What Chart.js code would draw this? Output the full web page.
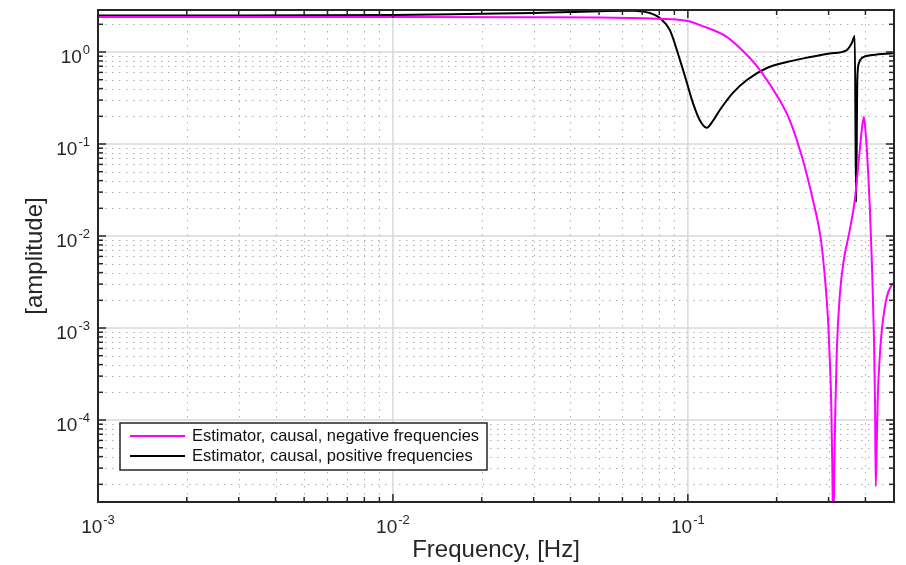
<!DOCTYPE html>
<html lang="en">
<head>
<meta charset="UTF-8">
<title>Estimator amplitude</title>
<script src="https://cdn.jsdelivr.net/npm/chart.js"></script>
<style>
  html, body { margin: 0; padding: 0; background: #fff; }
  #wrap { width: 906px; height: 565px; }
</style>
</head>
<body>
<div id="wrap"><canvas id="grafico" width="906" height="565"></canvas></div>

<script>
    // dados (frequencia em Hz, amplitude)
    const seriesLabels = ['Estimator, causal, negative frequencies', 'Estimator, causal, positive frequencies'];

    const freqNeg = [0.001, 0.003, 0.01, 0.03, 0.05, 0.0849, 0.1, 0.1099, 0.1355, 0.1622, 0.1754, 0.2047, 0.2218,
        0.2455, 0.2655, 0.28, 0.2868, 0.2936, 0.2994, 0.3041, 0.3064, 0.3088, 0.3113,
        0.3137, 0.3162, 0.32, 0.3276, 0.3379, 0.354, 0.3681, 0.3828, 0.3905, 0.3954, 0.3999, 0.4046,
        0.414, 0.4204, 0.427, 0.4311, 0.4336, 0.4372, 0.4406, 0.4476, 0.4547, 0.473, 0.4955];
    const ampNeg = [2.4, 2.4, 2.4, 2.39, 2.37, 2.28, 2.17, 1.96, 1.46, 0.86, 0.64, 0.30, 0.18,
        0.067, 0.0246, 0.011, 0.0061, 0.0027, 0.00108, 0.00033, 0.000146, 0.000032, 0.000005,
        0.000032, 0.000127, 0.00058, 0.0023, 0.0055, 0.0116, 0.0246, 0.086, 0.161, 0.196, 0.142, 0.086,
        0.0207, 0.0055, 0.00095, 0.00016, 0.000019, 0.00006, 0.00018, 0.0005, 0.00095, 0.0022, 0.0031];

    const freqPos = [0.001, 0.003, 0.01, 0.02, 0.03, 0.04, 0.05, 0.065, 0.0703, 0.0744, 0.0804, 0.0869, 0.094,
        0.0993, 0.104, 0.1099, 0.1159, 0.1216, 0.1284, 0.1421, 0.1585, 0.1853, 0.2168, 0.2594, 0.3028, 0.3459,
        0.3597, 0.3681, 0.3719, 0.3755, 0.3799, 0.3889, 0.4236, 0.4955];
    const ampPos = [2.5, 2.5, 2.52, 2.6, 2.65, 2.72, 2.78, 2.8, 2.75, 2.65, 2.34, 1.73, 0.82,
        0.46, 0.28, 0.18, 0.15, 0.178, 0.234, 0.359, 0.496, 0.67, 0.778, 0.88, 0.963, 1.05,
        1.25, 1.49, 0.0233, 0.5, 0.75, 0.86, 0.93, 0.97];

    const xTickExps = [-3, -2, -1];
    const yTickExps = [-4, -3, -2, -1, 0];
    const xLimits = [0.001, 0.5];
    const yLimits = [1.285e-5, 2.86];

    const fonte = "'Liberation Sans', Arial, Helvetica, sans-serif";
    const corEixo = '#262626';

    function valoresMenores(lim) {
        const lista = [];
        for (let d = Math.floor(Math.log10(lim[0])); d <= Math.ceil(Math.log10(lim[1])); d++) {
            for (let k = 2; k <= 9; k++) {
                const v = k * Math.pow(10, d);
                if (v > lim[0] && v < lim[1]) lista.push(v);
            }
        }
        return lista;
    }

    function valoresMaiores(lim) {
        const lista = [];
        for (let d = Math.floor(Math.log10(lim[0])); d <= Math.ceil(Math.log10(lim[1])); d++) {
            const v = Math.pow(10, d);
            if (v >= lim[0] * 0.999 && v <= lim[1]) lista.push(v);
        }
        return lista;
    }

    function linha(ctx, x1, y1, x2, y2) {
        ctx.beginPath();
        ctx.moveTo(x1, y1);
        ctx.lineTo(x2, y2);
        ctx.stroke();
    }

    // desenha "10" com expoente; align = 'center' ou 'right'
    function potencia(ctx, exp, x, yBase, align) {
        const base = '10';
        const sup = String(exp);
        ctx.font = `19px ${fonte}`;
        const wb = ctx.measureText(base).width;
        ctx.font = `13px ${fonte}`;
        const ws = ctx.measureText(sup).width;
        const total = wb + ws + 1;
        const x0 = align === 'right' ? x - total : x - total / 2;
        ctx.textAlign = 'left';
        ctx.textBaseline = 'alphabetic';
        ctx.font = `19px ${fonte}`;
        ctx.fillText(base, x0, yBase);
        ctx.font = `13px ${fonte}`;
        ctx.fillText(sup, x0 + wb + 1, yBase - 9);
    }

    const gradeMatlab = {
        id: 'gradeMatlab',
        beforeDatasetsDraw(chart) {
            const { ctx, chartArea: a, scales: { x, y } } = chart;
            ctx.save();
            // grade menor pontilhada
            ctx.strokeStyle = '#b0b0b0';
            ctx.lineWidth = 1;
            ctx.setLineDash([1.5, 5.5]);
            valoresMenores(xLimits).forEach(v => {
                const px = Math.round(x.getPixelForValue(v)) + 0.5;
                linha(ctx, px, a.top, px, a.bottom);
            });
            valoresMenores(yLimits).forEach(v => {
                const py = Math.round(y.getPixelForValue(v)) + 0.5;
                linha(ctx, a.left, py, a.right, py);
            });
            // grade maior
            ctx.setLineDash([]);
            ctx.strokeStyle = '#d9d9d9';
            ctx.lineWidth = 1.5;
            valoresMaiores(xLimits).forEach(v => {
                const px = x.getPixelForValue(v);
                linha(ctx, px, a.top, px, a.bottom);
            });
            valoresMaiores(yLimits).forEach(v => {
                const py = y.getPixelForValue(v);
                linha(ctx, a.left, py, a.right, py);
            });
            ctx.restore();
        },
        afterDatasetsDraw(chart) {
            const { ctx, chartArea: a, scales: { x, y } } = chart;
            ctx.save();
            ctx.strokeStyle = corEixo;
            ctx.fillStyle = corEixo;
            ctx.lineWidth = 1.5;

            // marcas para dentro, nos quatro lados
            const marcas = (lista, comp) => {
                lista.forEach(v => {
                    const px = x.getPixelForValue(v);
                    linha(ctx, px, a.bottom, px, a.bottom - comp);
                    linha(ctx, px, a.top, px, a.top + comp);
                });
            };
            const marcasY = (lista, comp) => {
                lista.forEach(v => {
                    const py = y.getPixelForValue(v);
                    linha(ctx, a.left, py, a.left + comp, py);
                    linha(ctx, a.right, py, a.right - comp, py);
                });
            };
            marcas(valoresMenores(xLimits), 5);
            marcas(valoresMaiores(xLimits), 8);
            marcasY(valoresMenores(yLimits), 5);
            marcasY(valoresMaiores(yLimits), 8);

            // caixa
            ctx.lineWidth = 2;
            ctx.strokeRect(a.left, a.top, a.right - a.left, a.bottom - a.top);

            // rotulos
            xTickExps.forEach(e => potencia(ctx, e, x.getPixelForValue(Math.pow(10, e)), a.bottom + 31, 'center'));
            yTickExps.forEach(e => potencia(ctx, e, a.left - 8, y.getPixelForValue(Math.pow(10, e)) + 11, 'right'));

            // titulos dos eixos
            ctx.font = `24px ${fonte}`;
            ctx.textAlign = 'center';
            ctx.textBaseline = 'alphabetic';
            ctx.fillText('Frequency, [Hz]', (a.left + a.right) / 2, 557);
            ctx.save();
            ctx.translate(42, (a.top + a.bottom) / 2);
            ctx.rotate(-Math.PI / 2);
            ctx.fillText('[amplitude]', 0, 0);
            ctx.restore();

            // legenda
            const lx = 120, ly = 423, lw = 367, lh = 47;
            ctx.fillStyle = '#fff';
            ctx.fillRect(lx, ly, lw, lh);
            ctx.strokeStyle = corEixo;
            ctx.lineWidth = 1.5;
            ctx.strokeRect(lx, ly, lw, lh);
            ctx.font = `16.5px ${fonte}`;
            ctx.textAlign = 'left';
            ctx.textBaseline = 'middle';
            chart.data.datasets.forEach((ds, i) => {
                const yy = ly + 13 + i * 20;
                ctx.strokeStyle = ds.borderColor;
                ctx.lineWidth = 2;
                linha(ctx, lx + 10, yy, lx + 65, yy);
                ctx.fillStyle = '#111';
                ctx.fillText(ds.label, lx + 72, yy);
            });
            ctx.restore();
        }
    };

    const ctx = document.getElementById('grafico').getContext('2d');

    new Chart(ctx, {
        type: 'line',
        data: {
            datasets: [
                {
                    label: seriesLabels[0],
                    data: freqNeg.map((f, i) => ({ x: f, y: ampNeg[i] })),
                    borderColor: '#ff00ff',
                    borderWidth: 2,
                    pointRadius: 0,
                    cubicInterpolationMode: 'monotone',
                    fill: false
                },
                {
                    label: seriesLabels[1],
                    data: freqPos.map((f, i) => ({ x: f, y: ampPos[i] })),
                    borderColor: '#000000',
                    borderWidth: 2,
                    pointRadius: 0,
                    cubicInterpolationMode: 'monotone',
                    fill: false
                }
            ]
        },
        options: {
            responsive: false,
            animation: false,
            devicePixelRatio: 1,
            layout: { padding: { left: 98, right: 12, top: 10, bottom: 63 } },
            scales: {
                x: { type: 'logarithmic', min: xLimits[0], max: xLimits[1], display: false },
                y: { type: 'logarithmic', min: yLimits[0], max: yLimits[1], display: false }
            },
            plugins: {
                legend: { display: false },
                tooltip: { enabled: false }
            }
        },
        plugins: [gradeMatlab]
    });
</script>
</body>
</html>
